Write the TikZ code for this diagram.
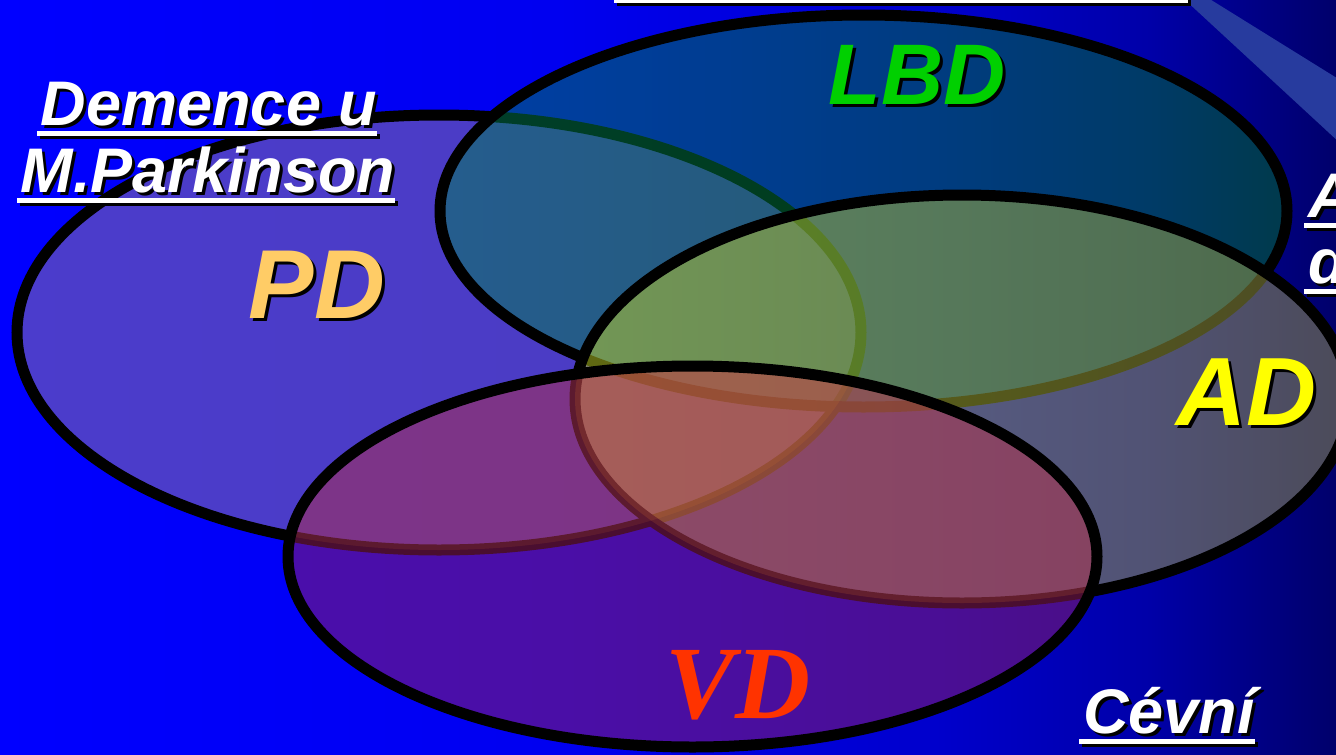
\documentclass[tikz,border=0pt]{standalone}
\usepackage{fontspec}
\setmainfont{Liberation Sans}
\newfontfamily\serifbi{Liberation Serif}
\pgfdeclarehorizontalshading{bgshade}{100bp}{rgb(0bp)=(0,0,1); rgb(25bp)=(0,0,1); rgb(46bp)=(0,0,.94); rgb(60bp)=(0,0,.8); rgb(68bp)=(0,0,.66); rgb(71.75bp)=(0,0,.53); rgb(75bp)=(0,0,.42); rgb(100bp)=(0,0,.42)}
\definecolor{bandc}{RGB}{39,59,158}
\definecolor{pdfill}{RGB}{150,120,155}
\definecolor{lbdL}{RGB}{0,126,86}
\definecolor{lbdR}{RGB}{0,116,30}
\definecolor{adL}{RGB}{192,210,36}
\definecolor{adR}{RGB}{152,150,76}
\definecolor{vdfill}{RGB}{148,28,96}
\definecolor{tint}{RGB}{255,140,40}
\definecolor{pdtext}{RGB}{255,204,102}
\definecolor{lbdtext}{RGB}{0,208,0}
\definecolor{adtext}{RGB}{255,255,0}
\definecolor{vdtext}{RGB}{255,51,0}
\newcommand\shd[1]{\rlap{\kern3pt\raisebox{-3pt}{\color{black}#1}}#1}
\newcommand\ulbar[1]{%
  \fill[ubarsh] ([xshift=-1pt,yshift=-9pt]#1.base west) rectangle ([xshift=3pt,yshift=-14pt]#1.base east);
  \fill[ubar] ([xshift=-4pt,yshift=-6pt]#1.base west) rectangle ([xshift=0pt,yshift=-11pt]#1.base east);}
\begin{document}
\begin{tikzpicture}[x=1pt,y=-1pt,
  ell/.style={line width=11pt, draw=black, fill opacity=0.5},
  rim/.style={line width=11pt, draw=black},
  ubar/.style={white},
  ubarsh/.style={black},
  lbl/.style={font=\bfseries\itshape\fontsize{63}{70}\selectfont, text=white, inner sep=0pt, anchor=base},
  big/.style={inner sep=0pt, anchor=base}]
\useasboundingbox (0,0) rectangle (1336,755);
\clip (0,0) rectangle (1336,755);
\shade[shading=bgshade] (0,0) rectangle (1336,755);
% light band at top right
\fill[bandc] (1183,-2) -- (1208,-2) -- (1340,80) -- (1340,143) -- cycle;
% underline of a title above the frame
\fill[ubarsh] (617,-4) rectangle (1191,6);
\fill[ubar] (614,-4) rectangle (1188,3);
% ellipses
\coordinate (pdc) at (439,332.5);
\coordinate (lbdc) at (863.5,211);
\coordinate (adc) at (962,399);
\coordinate (vdc) at (692.5,556.5);
\filldraw[ell, fill=pdfill] (pdc) ellipse [x radius=422pt, y radius=217.5pt];
\shadedraw[ell, left color=lbdL, right color=lbdR] (lbdc) ellipse [x radius=423.5pt, y radius=196pt];
\shadedraw[ell, left color=adL, right color=adR] (adc) ellipse [x radius=387pt, y radius=204pt];
\fill[vdfill, fill opacity=0.5] (vdc) ellipse [x radius=404.5pt, y radius=190.5pt];
\begin{scope}
  \clip (vdc) ellipse [x radius=404.5pt, y radius=190.5pt];
  \fill[tint, fill opacity=0.1] (pdc) ellipse [x radius=422pt, y radius=217.5pt];
  \fill[tint, fill opacity=0.14] (adc) ellipse [x radius=387pt, y radius=204pt];
\end{scope}
\draw[rim] (vdc) ellipse [x radius=404.5pt, y radius=190.5pt];
% labels in ellipses
\node[big, font=\bfseries\itshape\fontsize{98}{100}\selectfont, text=pdtext] (pdl) at (317,318) {\shd{PD}};
\node[big, font=\bfseries\itshape\fontsize{86}{90}\selectfont, text=lbdtext] (lbdl) at (917,104) {\shd{LBD}};
\node[big, font=\bfseries\itshape\fontsize{97}{100}\selectfont, text=adtext] (adl) at (1247,425) {\shd{AD}};
\node[big, font=\serifbi\bfseries\itshape\fontsize{104}{110}\selectfont, text=vdtext] (vdl) at (738,718) {VD};
% captions
\node[lbl] (dem1) at (209,125) {\shd{Demence u}};
\node[lbl] (dem2) at (208,192) {\shd{M.Parkinson}};
\ulbar{dem1}
\ulbar{dem2}
\node[lbl, anchor=base west] (alz1) at (1308,217) {\shd{Alzheimerova}};
\node[lbl, anchor=base west] (alz2) at (1308,283) {\shd{demence}};
\ulbar{alz1}
\ulbar{alz2}
\node[lbl] (cev) at (1169,733) {\shd{Cévní}};
\ulbar{cev}
\end{tikzpicture}
\end{document}
